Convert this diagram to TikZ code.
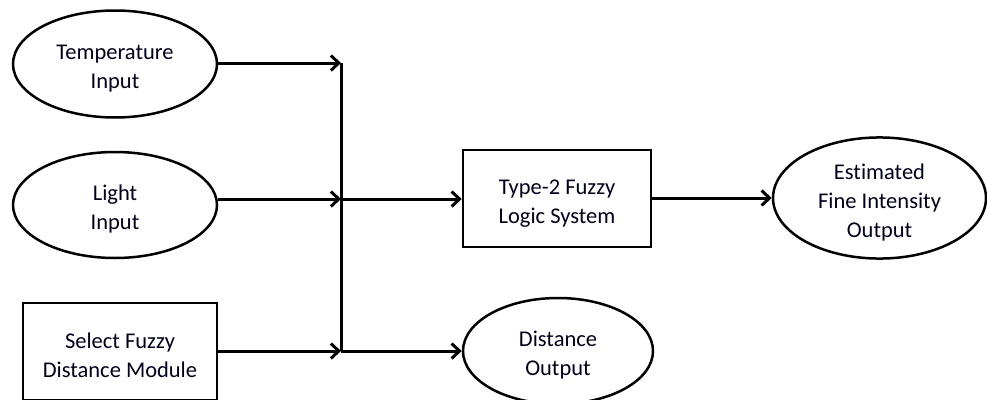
\documentclass[tikz,border=0pt]{standalone}
\usepackage{fontspec}
\setmainfont[Ligatures=NoCommon]{Carlito}
\usetikzlibrary{shapes.geometric,arrows.meta}

% extra room above the first line keeps each text block a little lower in its shape
\newcommand{\topgap}{\rule{0pt}{24pt}}

\tikzset{
  txt/.style={font=\fontsize{22.5}{29}\selectfont, align=center, text=black!90!blue, inner sep=0pt},
  oval/.style={txt, ellipse, draw, line width=2.5pt},
  blockbox/.style={txt, rectangle, draw, line width=2.5pt},
  link/.style={line width=3pt, -{Straight Barb[length=8pt,width=15pt,line width=3pt]}},
  bus/.style={line width=3pt}
}

\begin{document}
\begin{tikzpicture}[x=1pt,y=-1pt]
  \useasboundingbox (0,0) rectangle (987,399);

  % inputs
  \node[oval, minimum width=204pt, minimum height=107pt] (temp) at (115,64) {\topgap Temperature\\Input};
  \node[oval, minimum width=204pt, minimum height=106pt] (light) at (115,205) {\topgap Light\\Input};
  \node[blockbox, minimum width=194pt, minimum height=97pt] (select) at (120,351.5) {\topgap Select Fuzzy\\Distance Module};

  % processing and outputs
  \node[blockbox, minimum width=188pt, minimum height=97pt] (fls) at (557,198.5) {\topgap Type-2 Fuzzy\\Logic System};
  \node[oval, minimum width=213pt, minimum height=103pt] (est) at (879.5,198) {\topgap Estimated\\Fine Intensity\\Output};
  \node[oval, minimum width=190pt, minimum height=106pt] (dist) at (558,351) {\topgap Distance\\Output};

  % junctions on the collecting bus
  \coordinate (j1) at (341,63);
  \coordinate (j2) at (341,199);
  \coordinate (j3) at (341,351);

  \draw[bus] (j1) -- (j3);
  \draw[link] (temp.east |- j1) -- (j1);
  \draw[link] (light.east |- j2) -- (j2);
  \draw[link] (select.east |- j3) -- (j3);
  \draw[link] (j2) -- (fls.west |- j2);
  \draw[link] (j3) -- (dist.west);
  \draw[link] (fls.east |- est.west) -- (est.west);
\end{tikzpicture}
\end{document}
